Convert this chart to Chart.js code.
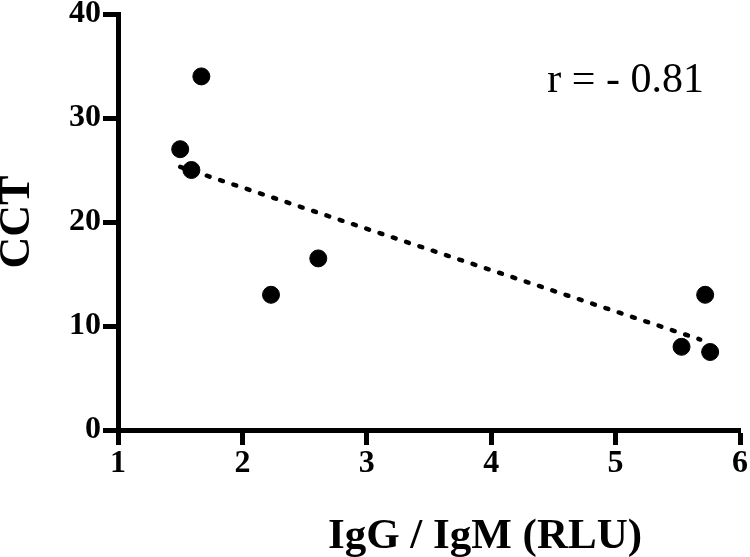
<!DOCTYPE html>
<html>
<head>
<meta charset="utf-8">
<script src="https://cdn.jsdelivr.net/npm/chart.js@4.4.1/dist/chart.umd.min.js"></script>
<style>
  html, body { margin: 0; padding: 0; background: #fff; }
  #wrap { width: 750px; height: 557px; }
</style>
</head>
<body>
<div id="wrap"><canvas id="cct_chart"></canvas></div>
<script>
// data
const igRatio = [1.50, 1.59, 1.67, 2.23, 2.61, 5.53, 5.72, 5.76];
const cctValue = [27, 25, 34, 13, 16.5, 8, 13, 7.5];
const fitX = [1.5, 5.68];
const fitY = [25.3, 8.7];
const rLabel = "r = - 0.81";
const xTitle = "IgG / IgM (RLU)";

const serif = "'Liberation Serif', 'Times New Roman', serif";

function toPoints(xs, ys) {
    return xs.map(function (x, i) { return { x: x, y: ys[i] }; });
}

// correlation text + x axis title (the title sits right of centre in the original)
const extraText = {
    id: "extraText",
    afterDraw(chart) {
        const ctx = chart.ctx;
        const xs = chart.scales.x;
        const ys = chart.scales.y;
        ctx.save();
        ctx.fillStyle = "#000";
        ctx.textAlign = "center";
        ctx.textBaseline = "middle";
        ctx.font = "42px " + serif;
        ctx.fillText(rLabel, xs.getPixelForValue(5.08), ys.getPixelForValue(33.6));
        ctx.textBaseline = "alphabetic";
        ctx.font = "bold 43px " + serif;
        ctx.fillText(xTitle, xs.getPixelForValue(3.95), xs.bottom - 9);
        ctx.restore();
    }
};

let chart = new Chart(document.getElementById("cct_chart"), {
    type: "scatter",
    data: {
        datasets: [{
            label: "CCT",
            data: toPoints(igRatio, cctValue),
            backgroundColor: "#000",
            borderColor: "#000",
            pointRadius: 8.5,
            pointHoverRadius: 8.5,
            order: 0,
            clip: false
        },
        {
            label: "fit",
            data: toPoints(fitX, fitY),
            showLine: true,
            borderColor: "#000",
            borderWidth: 4.5,
            borderDash: [3, 11],
            borderCapStyle: "round",
            pointRadius: 0,
            order: 1,
            clip: false
        }]
    },
    options: {
        responsive: true,
        maintainAspectRatio: false,
        animation: false,
        layout: { padding: { top: 12, right: 10, left: 0, bottom: 0 } },
        plugins: {
            legend: { display: false },
            tooltip: { enabled: false }
        },
        scales: {
            x: {
                type: "linear",
                min: 1,
                max: 6,
                ticks: {
                    stepSize: 1,
                    color: "#000",
                    padding: 0,
                    font: { family: serif, size: 32, weight: "bold" }
                },
                grid: { drawOnChartArea: false, tickLength: 15, tickWidth: 5, tickColor: "#000" },
                border: { color: "#000", width: 5 },
                afterFit: function (scale) { scale.height = 127; }
            },
            y: {
                min: 0,
                max: 40,
                ticks: {
                    stepSize: 10,
                    color: "#000",
                    padding: 2,
                    font: { family: serif, size: 32, weight: "bold", lineHeight: 0.75 }
                },
                grid: { drawOnChartArea: false, tickLength: 15, tickWidth: 5, tickColor: "#000" },
                border: { color: "#000", width: 5 },
                title: {
                    display: true,
                    text: "CCT",
                    color: "#000",
                    font: { family: serif, size: 44, weight: "bold", lineHeight: 0.8 },
                    padding: { top: 0, bottom: 0 }
                },
                afterFit: function (scale) { scale.width = 118; }
            }
        }
    },
    plugins: [extraText]
});
</script>
</body>
</html>
